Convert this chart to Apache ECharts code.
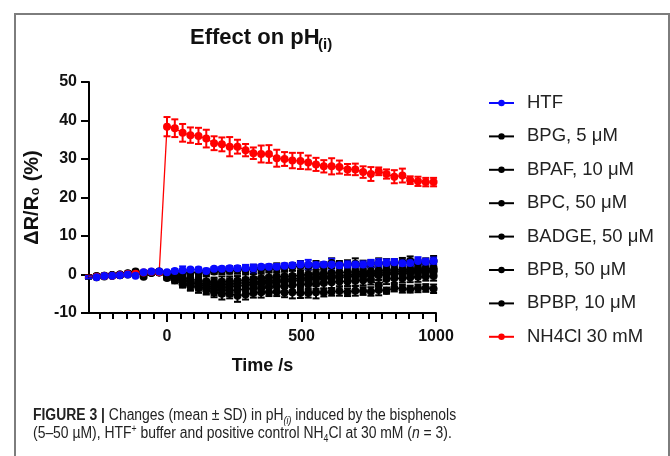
<!DOCTYPE html>
<html>
<head>
<meta charset="utf-8">
<script src="https://cdn.jsdelivr.net/npm/echarts@6/dist/echarts.min.js"></script>
<style>
  body { margin: 0; background: #fff; }
  #wrap { position: relative; width: 670px; height: 456px; overflow: hidden; }
  #chart { position: absolute; left: 0; top: 0; width: 670px; height: 456px; }
  #frame { position: absolute; left: 14px; top: 13px; width: 652px; height: 480px; border: 2px solid #7d7d7d; border-bottom: none; }
  #caption { position: absolute; left: 33px; top: 406px; font-family: 'Liberation Sans', sans-serif; font-size: 16px; line-height: 17.5px; color: #222; white-space: nowrap; transform: scaleX(0.87); transform-origin: 0 0; }
  #caption sub, #caption sup { font-size: 10px; line-height: 0; }
</style>
</head>
<body>
<div id="wrap">
  <div id="frame"></div>
  <div id="chart"></div>
  <div id="caption"><b>FIGURE 3 |</b> Changes (mean ± SD) in pH<sub><i>(i)</i></sub> induced by the bisphenols<br>(5–50 µM), HTF<sup>+</sup> buffer and positive control NH<sub>4</sub>Cl at 30 mM (<i>n</i> = 3).</div>
</div>
<script>
// time points (s)
const times = [-292, -262, -233, -204, -175, -146, -117, -87, -58, -29, 0, 29, 58, 87, 117, 146, 175, 204, 233, 262, 292, 321, 350, 379, 408, 437, 466, 496, 525, 554, 583, 612, 641, 671, 700, 729, 758, 787, 816, 845, 875, 904, 933, 962, 991];

// mean dR/R0 (%)
const htf = [-0.7, -0.7, -0.4, -0.3, -0.2, 0.0, -0.3, 0.6, 0.8, 0.8, 0.6, 0.9, 1.1, 1.3, 1.3, 0.9, 1.5, 1.5, 1.6, 1.6, 1.7, 1.6, 2.0, 2.0, 2.0, 2.3, 2.4, 2.6, 2.6, 2.5, 2.6, 2.6, 2.4, 2.6, 2.6, 2.6, 2.9, 3.0, 3.0, 3.2, 2.9, 3.0, 3.5, 3.3, 3.5];
const bpg = [-0.6, -0.5, -0.3, -0.2, 0.0, 0.3, 0.8, -0.6, 0.5, 0.6, 0.3, 0.2, 0.4, 0.5, 0.6, 0.5, 0.8, 1.0, 1.0, 1.2, 1.3, 1.4, 1.5, 1.5, 1.7, 1.9, 2.0, 2.2, 2.2, 2.4, 2.3, 3.0, 2.5, 2.6, 2.8, 2.6, 2.8, 3.0, 2.7, 3.0, 3.2, 3.5, 3.0, 3.2, 3.5];
const bpaf = [-0.5, -0.6, -0.4, -0.2, -0.1, 0.1, 0.5, 0.2, 0.4, 0.6, -0.9, -0.3, -0.8, -1.2, -1.6, -1.8, -2.0, -1.9, -1.8, -1.6, -1.4, -1.2, -1.0, -0.8, -0.6, -0.5, -0.4, -0.2, 0.0, 0.1, 0.2, 0.4, 0.5, 0.6, 0.7, 0.8, 0.8, 1.0, 1.1, 1.2, 1.3, 1.3, 1.4, 1.5, 1.6];
const bpc = [-0.7, -0.5, -0.4, -0.3, -0.1, 0.2, 0.4, 0.3, 0.5, 0.5, -0.4, -0.8, -1.5, -2.2, -2.6, -3.0, -3.2, -3.3, -3.2, -3.0, -2.8, -2.6, -2.4, -2.2, -2.0, -1.8, -1.7, -1.5, -1.4, -1.2, -1.0, -0.9, -0.8, -0.6, -0.5, -0.4, -0.2, -0.2, 0.0, 0.2, 0.2, 0.4, 0.5, 0.6, 0.8];
const badge = [-0.6, -0.7, -0.5, -0.3, -0.2, 0.0, 0.3, 0.4, 0.6, 0.7, 0.1, -1.0, -2.0, -2.8, -3.2, -3.5, -3.8, -4.0, -4.2, -4.0, -3.8, -3.6, -3.5, -3.2, -3.0, -3.0, -2.8, -2.6, -2.5, -2.4, -2.2, -2.0, -1.8, -1.8, -1.6, -1.5, -1.4, -2.8, -1.2, -1.0, -1.0, -0.8, -0.6, -0.5, -0.4];
const bpb = [-0.8, -0.6, -0.4, -0.2, -0.1, 0.1, 0.6, 0.3, 0.5, 0.6, -0.2, -0.5, -1.2, -1.8, -2.2, -2.5, -2.6, -2.6, -2.5, -2.3, -2.1, -2.0, -1.8, -1.6, -1.5, -1.3, -1.1, -1.0, -0.8, -0.6, -0.5, -0.4, -0.3, -0.1, 0.0, 0.2, 0.3, 0.4, 0.5, 0.6, 0.8, 0.9, 1.0, 1.1, 1.2];
const bpbp = [-0.5, -0.4, -0.3, -0.2, 0.0, 0.2, 0.4, 0.4, 0.6, 0.8, -0.6, -1.5, -2.5, -3.0, -3.5, -4.0, -4.6, -5.0, -5.0, -5.5, -5.2, -4.8, -4.6, -4.6, -4.5, -4.7, -4.6, -4.8, -4.8, -4.6, -4.7, -4.5, -4.3, -4.6, -4.2, -4.3, -4.4, -4.0, -4.2, -3.5, -3.7, -3.8, -3.6, -3.5, -3.7];
const nh4cl = [-0.5, -0.6, -0.4, -0.3, -0.1, 0.1, 0.2, 0.5, 0.7, 0.6, 38.4, 38.0, 36.8, 36.2, 36.0, 35.3, 34.1, 33.8, 33.2, 33.2, 32.3, 31.5, 31.3, 31.3, 30.2, 30.0, 29.6, 29.5, 29.1, 28.6, 28.1, 28.1, 27.9, 27.3, 27.3, 26.6, 26.1, 26.8, 26.1, 25.4, 25.7, 24.5, 24.2, 24.0, 24.0];

// SD
const htfSd = [0.3, 0.4, 0.3, 0.3, 0.2, 0.3, 0.3, 0.3, 0.2, 0.3, 0.3, 0.5, 1.0, 0.4, 0.5, 0.6, 0.4, 0.5, 0.6, 0.5, 0.8, 1.0, 0.5, 0.6, 0.7, 0.5, 0.4, 0.8, 1.2, 0.6, 0.5, 1.5, 0.6, 0.8, 0.7, 0.8, 0.9, 1.0, 0.9, 0.8, 0.8, 0.9, 1.0, 0.8, 0.9];
const bpgSd = [0.3, 0.3, 0.3, 0.3, 0.3, 0.3, 0.4, 0.3, 0.3, 0.3, 0.4, 0.6, 0.5, 0.7, 0.6, 0.8, 0.7, 0.9, 0.8, 1.0, 0.9, 1.1, 0.9, 1.0, 1.2, 0.9, 1.0, 1.3, 0.8, 1.1, 0.9, 1.2, 1.0, 1.1, 1.4, 1.0, 0.9, 1.2, 1.3, 1.0, 1.1, 1.2, 0.9, 1.0, 1.3];
const bpafSd = [0.3, 0.3, 0.3, 0.3, 0.3, 0.3, 0.3, 0.3, 0.3, 0.3, 0.5, 0.8, 1.0, 1.1, 1.2, 1.3, 1.2, 1.4, 1.3, 1.2, 1.4, 1.3, 1.2, 1.5, 1.3, 1.2, 1.4, 1.3, 1.2, 1.1, 1.3, 1.2, 1.4, 1.2, 1.1, 1.3, 1.2, 1.1, 1.3, 1.2, 1.1, 1.2, 1.0, 1.1, 1.2];
const bpcSd = [0.3, 0.3, 0.3, 0.3, 0.3, 0.3, 0.3, 0.3, 0.3, 0.3, 0.5, 0.9, 1.1, 1.2, 1.4, 1.3, 1.5, 1.4, 1.3, 1.5, 1.4, 1.2, 1.4, 1.3, 1.2, 1.4, 1.3, 1.5, 1.2, 1.3, 1.4, 1.3, 1.2, 1.4, 1.3, 1.1, 1.2, 1.3, 1.4, 1.2, 1.1, 1.3, 1.2, 1.0, 1.2];
const badgeSd = [0.3, 0.3, 0.3, 0.3, 0.3, 0.3, 0.3, 0.3, 0.3, 0.3, 0.5, 1.0, 1.2, 1.4, 1.5, 1.4, 1.6, 1.5, 1.4, 1.6, 1.5, 1.4, 1.5, 1.3, 1.4, 1.6, 1.3, 1.4, 1.5, 1.3, 1.4, 1.5, 1.3, 1.2, 1.4, 1.3, 1.2, 1.4, 1.3, 1.2, 1.1, 1.2, 1.3, 1.1, 1.2];
const bpbSd = [0.3, 0.3, 0.3, 0.3, 0.3, 0.3, 0.3, 0.3, 0.3, 0.3, 0.4, 0.8, 1.0, 1.2, 1.3, 1.2, 1.4, 1.3, 1.5, 1.2, 1.3, 1.4, 1.2, 1.3, 1.5, 1.3, 1.2, 1.4, 1.3, 1.2, 1.4, 1.3, 1.2, 1.1, 1.3, 1.2, 1.4, 1.1, 1.2, 1.3, 1.1, 1.2, 1.0, 1.1, 1.2];
const bpbpSd = [0.3, 0.3, 0.3, 0.3, 0.3, 0.3, 0.3, 0.3, 0.3, 0.3, 0.4, 0.8, 0.9, 1.0, 1.2, 1.2, 1.3, 1.5, 1.2, 1.6, 1.3, 1.2, 1.4, 1.0, 1.1, 1.2, 1.6, 1.3, 1.2, 1.6, 1.0, 1.0, 1.2, 1.0, 1.3, 1.0, 1.1, 1.4, 0.8, 0.9, 1.0, 0.9, 1.0, 1.0, 1.1];
const nh4clSd = [0.2, 0.2, 0.2, 0.2, 0.2, 0.2, 0.2, 0.2, 0.2, 0.2, 2.5, 2.3, 2.3, 2.0, 2.1, 2.3, 1.8, 1.8, 2.5, 1.8, 1.6, 1.5, 2.2, 2.3, 2.2, 1.8, 2.0, 2.1, 1.8, 1.7, 1.6, 2.1, 1.7, 1.4, 1.5, 1.5, 1.8, 1.0, 1.2, 1.7, 1.8, 1.0, 1.2, 1.1, 1.1];

const legendNames = ['HTF', 'BPG, 5 μM', 'BPAF, 10 μM', 'BPC, 50 μM', 'BADGE, 50 μM', 'BPB, 50 μM', 'BPBP, 10 μM', 'NH4Cl 30 mM'];
const xLabelTicks = [0, 500, 1000];
const xMinorTicks = [-250, -200, -150, -100, -50, 0, 50, 100, 150, 200, 250, 300, 350, 400, 450, 500, 550, 600, 650, 700, 750, 800, 850, 900, 950, 1000];

// drawing order: black first, then red, blue on top
const groups = [
  { name: 'BPG, 5 μM', mean: bpg, sd: bpgSd, color: '#000000' },
  { name: 'BPAF, 10 μM', mean: bpaf, sd: bpafSd, color: '#000000' },
  { name: 'BPC, 50 μM', mean: bpc, sd: bpcSd, color: '#000000' },
  { name: 'BADGE, 50 μM', mean: badge, sd: badgeSd, color: '#000000' },
  { name: 'BPB, 50 μM', mean: bpb, sd: bpbSd, color: '#000000' },
  { name: 'BPBP, 10 μM', mean: bpbp, sd: bpbpSd, color: '#000000' },
  { name: 'NH4Cl 30 mM', mean: nh4cl, sd: nh4clSd, color: '#ff0000' },
  { name: 'HTF', mean: htf, sd: htfSd, color: '#0a0aff' },
];

const errRender = (color) => (params, api) => {
  const x = api.value(0);
  const lo = api.coord([x, api.value(1)]);
  const hi = api.coord([x, api.value(2)]);
  const w = 3.5;
  const st = { stroke: color, lineWidth: 2 };
  return {
    type: 'group',
    children: [
      { type: 'line', shape: { x1: lo[0], y1: lo[1], x2: hi[0], y2: hi[1] }, style: st },
      { type: 'line', shape: { x1: lo[0] - w, y1: lo[1], x2: lo[0] + w, y2: lo[1] }, style: st },
      { type: 'line', shape: { x1: hi[0] - w, y1: hi[1], x2: hi[0] + w, y2: hi[1] }, style: st },
    ],
  };
};

const series = [];
groups.forEach(g => {
  series.push({
    name: g.name + ' err', type: 'custom', renderItem: errRender(g.color),
    encode: { x: 0, y: [1, 2] },
    data: times.map((t, i) => [t, g.mean[i] - g.sd[i], g.mean[i] + g.sd[i]]),
    silent: true,
  });
  series.push({
    name: g.name, type: 'line', data: times.map((t, i) => [t, g.mean[i]]),
    symbol: 'circle', symbolSize: 8, showSymbol: true,
    lineStyle: { color: g.color, width: 1.3 }, itemStyle: { color: g.color },
    emphasis: { disabled: true },
  });
});

const chart = echarts.init(document.getElementById('chart'));
const font = 'Liberation Sans';
chart.setOption({
  animation: false,
  backgroundColor: 'transparent',
  grid: { left: 89, right: 234, top: 82, bottom: 143, outerBoundsMode: 'none' },
  graphic: [
    { type: 'text', left: 190, top: 27, style: { text: 'Effect on pH', font: 'bold 22px "Liberation Sans"', fill: '#111' } },
    { type: 'text', left: 318, top: 37, style: { text: '(i)', font: 'bold 15px "Liberation Sans"', fill: '#111' } },
  ],
  legend: {
    data: legendNames, orient: 'vertical', left: 483, top: 88,
    itemWidth: 25, itemHeight: 8, itemGap: 13.4,
    textStyle: { fontFamily: font, fontSize: 18.5, color: '#222', lineHeight: 20, padding: [0, 0, 0, 8] },
  },
  xAxis: [
    {
      type: 'value', min: -290, max: 1000,
      axisLine: { onZero: false, lineStyle: { color: '#000', width: 2 } },
      axisTick: { show: true, customValues: xMinorTicks, length: 6, lineStyle: { color: '#000', width: 2 } },
      axisLabel: { show: false }, splitLine: { show: false },
    },
    {
      type: 'value', min: -290, max: 1000, position: 'bottom',
      axisLine: { show: false, onZero: false },
      axisTick: { show: true, customValues: xLabelTicks, length: 9, lineStyle: { color: '#000', width: 2 } },
      axisLabel: { customValues: xLabelTicks, formatter: v => String(v), fontFamily: font, fontWeight: 'bold', fontSize: 16, color: '#111', margin: 16 },
      splitLine: { show: false },
      name: 'Time /s', nameLocation: 'middle', nameGap: 44,
      nameTextStyle: { fontFamily: font, fontWeight: 'bold', fontSize: 18, color: '#111' },
    },
  ],
  yAxis: {
    type: 'value', min: -10, max: 50, interval: 10,
    axisLine: { show: true, onZero: false, lineStyle: { color: '#000', width: 2 } },
    axisTick: { show: true, length: 8, lineStyle: { color: '#000', width: 2 } },
    axisLabel: { fontFamily: font, fontWeight: 'bold', fontSize: 16, color: '#111', margin: 12 },
    splitLine: { show: false },
    name: 'ΔR/R₀ (%)', nameLocation: 'middle', nameGap: 46,
    nameTextStyle: { fontFamily: font, fontWeight: 'bold', fontSize: 20, color: '#111' },
  },
  series,
});
</script>
</body>
</html>
